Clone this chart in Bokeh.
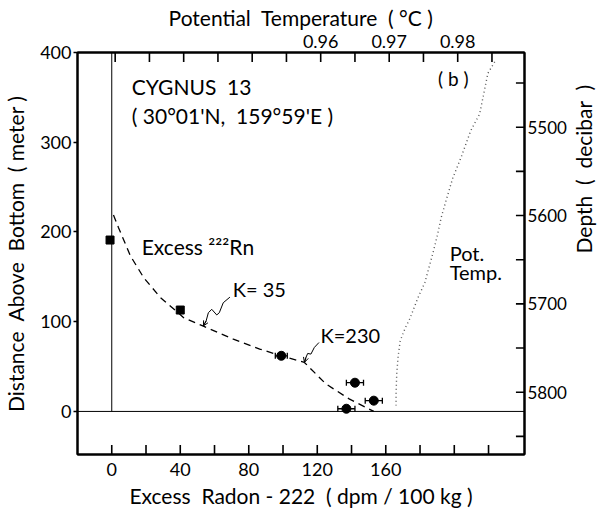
import math
from bokeh.plotting import figure
from bokeh.models import (Range1d, LinearAxis, FixedTicker, Label, Whisker, TeeHead,
                          ColumnDataSource, Arrow, OpenHead, Span)
from bokeh.embed import file_html
from bokeh.resources import INLINE

# ---------------- data ----------------
# Excess Rn-222 (dpm/100 kg) vs distance above bottom (m)
sq_x = [-1, 40]
sq_y = [191, 113]
circ_x = [99, 142, 153, 137]
circ_y = [62, 32, 12, 3]
circ_err = [3.5, 5, 5, 5]

# fitted diffusion curve (K=35 upper part, K=230 lower part)
curve_x = [1, 3.9, 11, 18.7, 28.4, 42, 53.5, 71, 86.4, 99, 112.5, 125, 138.6, 153]
curve_y = [219, 205, 173, 149, 127, 104.5, 95, 80.5, 69.5, 62, 54.6, 30.7, 14, 0]

# potential temperature profile (deg C) vs depth (decibar)
temp_x = [0.9854, 0.9844, 0.9837, 0.9832, 0.9819, 0.9805, 0.9793, 0.9783, 0.9776,
          0.9771, 0.9764, 0.9752, 0.9742, 0.9730, 0.9723, 0.9716, 0.9713, 0.9711,
          0.9710, 0.9710]
temp_depth = [5426, 5439, 5466, 5485, 5504, 5534, 5557, 5583, 5602, 5620, 5642,
              5676, 5693, 5717, 5728, 5742, 5760, 5779, 5802, 5815]

# annotation squiggles
k35_x = [69.0, 65.1, 62.8, 61.3, 58.4, 56.4, 55.1, 53.5]
k35_y = [127.4, 121.1, 110.0, 107.5, 113.8, 110.0, 100.8, 95.3]
k230_x = [121.0, 118.3, 116.3, 114.4, 113.4, 112.5]
k230_y = [76.8, 71.3, 63.9, 64.6, 60.2, 54.6]

# axes ticks
bottom_ticks = [0, 40, 80, 120, 160]
bottom_minor = [20, 60, 100, 140, 180, 200, 220]
left_ticks = [0, 100, 200, 300, 400]
top_ticks = [0.96, 0.97, 0.98]
top_minor = [0.93, 0.935, 0.94, 0.945, 0.95, 0.955, 0.965, 0.975, 0.985]
right_ticks = [5500, 5600, 5700, 5800]
right_minor = [5450, 5550, 5650, 5750, 5850]

# reference lines
zero_x = [0, 0]
zero_y = [0, 400]

FONT = "Lato"
NB = "\u00a0"

X0, X1 = -20, 241
Y0, Y1 = -48, 400
T0, T1 = 0.9245, 0.98975
D0, D1 = 5870.5, 5415.4

p = figure(width=611, height=512, x_range=Range1d(X0, X1), y_range=Range1d(Y0, Y1),
           output_backend="svg", toolbar_location=None,
           min_border_left=77, min_border_right=84, min_border_top=52, min_border_bottom=58)
p.extra_x_ranges = {"temp": Range1d(T0, T1)}
p.extra_y_ranges = {"depth": Range1d(D0, D1)}

p.xgrid.visible = False
p.ygrid.visible = False
p.outline_line_color = "black"
p.outline_line_width = 2
p.background_fill_color = "white"
p.border_fill_color = "white"

def style_axis(ax, tout, standoff, fs="18px", label=None, lstand=5):
    ax.axis_line_width = 2
    ax.axis_line_color = "black"
    ax.major_tick_in = 0
    ax.major_tick_out = tout
    ax.minor_tick_in = 0
    ax.minor_tick_out = tout
    ax.major_tick_line_width = 1.5
    ax.minor_tick_line_width = 1.5
    ax.major_tick_line_color = "black"
    ax.minor_tick_line_color = "black"
    ax.major_label_standoff = standoff
    ax.major_label_text_font = FONT
    ax.major_label_text_font_size = fs
    ax.major_label_text_color = "black"
    if label is not None:
        ax.axis_label = label
        ax.axis_label_text_font = FONT
        ax.axis_label_text_font_size = "21px"
        ax.axis_label_text_font_style = "normal"
        ax.axis_label_text_color = "black"
        ax.axis_label_standoff = lstand

bx = p.xaxis[0]
bx.ticker = FixedTicker(ticks=bottom_ticks, minor_ticks=[])
style_axis(bx, 0, 8, label=f"Excess{NB} Radon - 222{NB} ( dpm / 100 kg )", lstand=4)

ly = p.yaxis[0]
ly.ticker = FixedTicker(ticks=left_ticks, minor_ticks=[])
style_axis(ly, 4, 2, label=f"Distance{NB} Above{NB} Bottom{NB} ( meter )", lstand=9)

tx = LinearAxis(x_range_name="temp", ticker=FixedTicker(ticks=top_ticks, minor_ticks=[]))
style_axis(tx, 0, 5, label=f"Potential{NB} Temperature{NB} ( °C )", lstand=2)
p.add_layout(tx, "above")

ry = LinearAxis(y_range_name="depth", ticker=FixedTicker(ticks=right_ticks, minor_ticks=[]))
style_axis(ry, 0, 3, fs="17px", label=f"Depth{NB} ({NB} decibar{NB} )", lstand=14)
try:
    ry.axis_label_orientation = math.pi / 2
except Exception:
    pass
p.add_layout(ry, "right")

# inward tick marks, drawn from the tick lists
bottom_all = sorted(bottom_ticks + bottom_minor)
top_all = sorted(top_ticks + top_minor)
right_all = sorted(right_ticks + right_minor)
TLY = 10.5  # tick length in y data units
TLX = 5.0   # tick length in x data units
p.segment(x0=bottom_all, y0=[Y0] * len(bottom_all), x1=bottom_all,
          y1=[Y0 + TLY] * len(bottom_all), line_color="black", line_width=1.6)
p.segment(x0=top_all, y0=[Y1] * len(top_all), x1=top_all, y1=[Y1 - TLY] * len(top_all),
          x_range_name="temp", line_color="black", line_width=1.6)
p.segment(x0=[X1] * len(right_all), y0=right_all, x1=[X1 - TLX] * len(right_all),
          y1=right_all, y_range_name="depth", line_color="black", line_width=1.6)

# reference lines
p.add_layout(Span(location=0, dimension="width", line_color="black", line_width=1))
p.line(zero_x, zero_y, line_color="black", line_width=1)

# potential temperature profile
p.line(temp_x, temp_depth, x_range_name="temp", y_range_name="depth",
       line_color="#555555", line_width=1.4, line_dash="1 3")

# fitted curve
p.line(curve_x, curve_y, line_color="black", line_width=1.3, line_dash="7 5")

# squiggles
p.line(k35_x, k35_y, line_color="black", line_width=1)
p.line(k230_x, k230_y, line_color="black", line_width=1)
p.add_layout(Arrow(end=OpenHead(size=5, line_width=1), line_width=1,
                   x_start=k35_x[-2], y_start=k35_y[-2], x_end=k35_x[-1], y_end=k35_y[-1]))
p.add_layout(Arrow(end=OpenHead(size=5, line_width=1), line_width=1,
                   x_start=k230_x[-2], y_start=k230_y[-2], x_end=k230_x[-1], y_end=k230_y[-1]))

# error bars and points
src = ColumnDataSource(dict(x=circ_x, y=circ_y,
                            lo=[a - e for a, e in zip(circ_x, circ_err)],
                            hi=[a + e for a, e in zip(circ_x, circ_err)]))
p.add_layout(Whisker(source=src, base="y", lower="lo", upper="hi", dimension="width",
                     line_color="black", line_width=1.3,
                     lower_head=TeeHead(size=6, line_width=1.3),
                     upper_head=TeeHead(size=6, line_width=1.3)))
p.scatter(circ_x, circ_y, marker="circle", size=9, color="black")
p.scatter(sq_x, sq_y, marker="square", size=8, color="black")

def lab(x, y, t, fs="21px", **kw):
    p.add_layout(Label(x=x, y=y, text=t, text_font=FONT, text_font_size=fs,
                       text_color="black", **kw))

lab(11.7, 348.4, f"CYGNUS{NB} 13")
lab(11.7, 316.1, f"( 30°01'N,{NB} 159°59'E )")
lab(190.5, 358.7, "( b )", fs="19px")
lab(17.5, 170.1, "Excess ²²²Rn")
lab(70.6, 122.6, "K= 35", fs="20px")
lab(121.9, 71.6, "K=230", fs="20px")
lab(197.3, 162.7, "Pot.", fs="20px")
lab(197.3, 142.3, "Temp.", fs="20px")

open("out.html", "w").write(file_html(p, INLINE))
